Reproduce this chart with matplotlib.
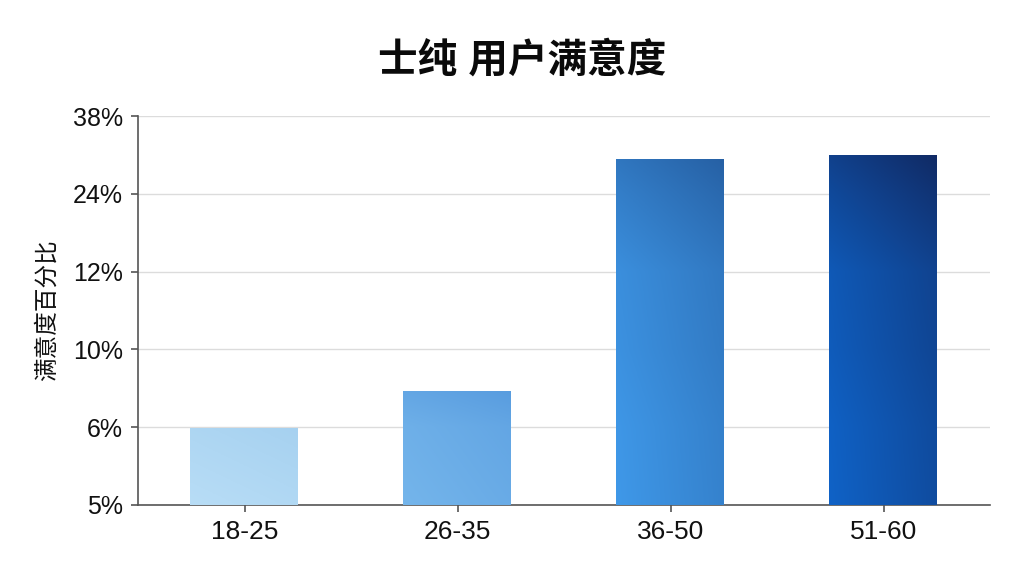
import matplotlib
import numpy as np
import matplotlib.pyplot as plt
from matplotlib.colors import LinearSegmentedColormap

matplotlib.use("Agg")

plt.rcParams["font.family"] = ["Liberation Sans", "Noto Sans CJK SC", "DejaVu Sans"]

# data
age_groups = ["18-25", "26-35", "36-50", "51-60"]
satisfaction = [6.0, 7.9, 30.4, 31.1]
tick_values = [5, 6, 10, 12, 24, 38]
tick_labels = ["5%", "6%", "10%", "12%", "24%", "38%"]

# gradient colours per bar: (bottom-left, top-right)
bar_colors = [
    ("#b8ddf6", "#a6d1f0"),
    ("#74b5eb", "#589cdf"),
    ("#3f98e8", "#2660a4"),
    ("#0f62c6", "#112a64"),
]

# the y axis in the reference is evenly spaced on these labels
positions = np.arange(len(tick_values))


def forward(v):
    return np.interp(v, tick_values, positions)


def inverse(p):
    return np.interp(p, positions, tick_values)


fig = plt.figure(figsize=(10.24, 5.76), dpi=100)
ax = fig.add_axes([0.1348, 0.1233, 0.832, 0.6753])
ax.set_yscale("function", functions=(forward, inverse))
ax.set_ylim(5, 38)
ax.set_xlim(-0.5, 3.5)

base = tick_values[0]
heights = np.array(satisfaction) - base
bars = ax.bar(range(len(age_groups)), heights, width=0.51, bottom=base,
              color="none", zorder=3)

# diagonal gradient fill clipped to each bar
yy, xx = np.mgrid[0:1:200j, 0:1:200j]
grad = 0.4 * xx + 0.6 * yy
for bar, (c0, c1) in zip(bars, bar_colors):
    cmap = LinearSegmentedColormap.from_list("g", [c0, c1])
    x0, y0 = bar.get_x(), bar.get_y()
    x1, y1 = x0 + bar.get_width(), y0 + bar.get_height()
    im = ax.imshow(grad, cmap=cmap, origin="lower", aspect="auto",
                   extent=(x0, x1, y0, y1), zorder=3, interpolation="bilinear")
    im.set_clip_path(bar)

ax.set_xlim(-0.5, 3.5)
ax.set_ylim(5, 38)
ax.set_yticks(tick_values)
ax.set_yticklabels(tick_labels)
ax.set_xticks(range(len(age_groups)))
ax.set_xticklabels(age_groups)
ax.minorticks_off()

ax.grid(axis="y", color="#dcdcdc", linewidth=1.0, zorder=0)
ax.set_axisbelow(True)
for side in ["top", "right"]:
    ax.spines[side].set_visible(False)
for side in ["left", "bottom"]:
    ax.spines[side].set_color("#555555")
    ax.spines[side].set_linewidth(1.2)
ax.tick_params(axis="both", colors="#555555", labelcolor="#111111",
               length=5, width=1.2)
ax.tick_params(axis="y", labelsize=18, pad=6)
ax.tick_params(axis="x", labelsize=19, pad=6)

ax.set_ylabel("满意度百分比", fontsize=17, color="#111111", labelpad=10)
fig.text(0.51, 0.895, "士纯 用户满意度", ha="center", va="center",
         fontsize=28.5, fontweight="bold", color="#0a0a0a")

fig.savefig("out.png", dpi=100, facecolor="white")
